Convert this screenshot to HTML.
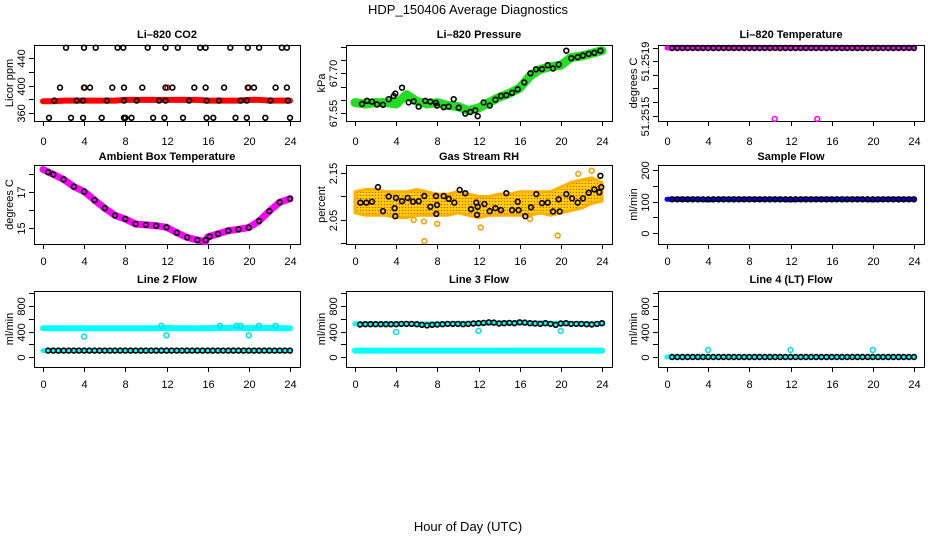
<!DOCTYPE html>
<html><head><meta charset="utf-8">
<style>
html,body{margin:0;padding:0;background:#fff;}
svg{display:block;font-family:"Liberation Sans",Arial,sans-serif;}
.tl{font-size:11px;fill:#000;}
.tt{font-size:11px;font-weight:bold;fill:#000;}
</style></head>
<body>
<svg id="chart" width="936" height="540" viewBox="0 0 936 540" xmlns="http://www.w3.org/2000/svg">
<defs>
<pattern id="orangeDots" width="3" height="3" patternUnits="userSpaceOnUse">
<rect width="3" height="3" fill="#ffc800"/><rect width="1" height="1" fill="#f04000"/><rect x="1" y="1" width="1" height="1" fill="#ffe000"/>
</pattern>
</defs>
<text x="468" y="14" text-anchor="middle" font-size="13">HDP_150406  Average Diagnostics</text>
<text x="468" y="531" text-anchor="middle" font-size="13">Hour of Day (UTC)</text>
</svg>
<script>
// ---- data ----
const hourly = [0,1,2,3,4,5,6,7,8,9,10,11,12,13,14,15,16,17,18,19,20,21,22,23,24];
const halfHours = [0.5,1,1.5,2,2.5,3,3.5,4,4.5,5,5.5,6,6.5,7,7.5,8,8.5,9,9.5,10,10.5,11,11.5,12,12.5,13,13.5,14,14.5,15,15.5,16,16.5,17,17.5,18,18.5,19,19.5,20,20.5,21,21.5,22,22.5,23,23.5,24];
const xTicks = [0,4,8,12,16,20,24];

// Li-820 CO2
const co2Red = [377,377,378,378,378,378,378,378,379,379,379,379,379,379,379,379,378,378,378,378,379,379,378,378,378];
const co2RedSqT = [4.05,12.1,20.0];
const co2RedSqV = [397,397,397];
const co2BlackT = [2.23,3.98,5.12,7.25,7.8,10.17,11.9,13.1,15.26,15.8,18.2,19.9,21.0,23.2,23.7,
  1.65,3.98,4.57,6.73,7.87,9.65,11.9,12.57,14.7,15.8,17.6,19.9,20.5,22.6,23.7,
  1.1,3.27,3.9,6.2,7.87,9.1,11.27,11.9,14.2,15.9,17.1,19.2,19.8,22.1,23.8,
  0.58,2.72,3.9,5.7,7.87,8.0,8.6,10.7,11.8,13.6,15.9,16.55,18.7,19.8,21.6,24];
const co2BlackV = [455,455,455,455,455,455,455,455,455,455,455,455,455,455,455,
  397,397,397,397,397,397,397,397,397,397,397,397,397,397,397,
  378,378,378,378,378,378,378,378,378,378,378,378,378,378,378,
  353,353,353,353,353,353,353,353,353,353,353,353,353,353,353,353];

// Li-820 Pressure
const presGreen = [67.59,67.585,67.59,67.59,67.585,67.62,67.595,67.585,67.59,67.58,67.575,67.56,67.57,67.59,67.61,67.625,67.645,67.69,67.715,67.725,67.73,67.76,67.765,67.775,67.785];
const presT = [0.68,1.17,1.65,2.14,2.72,3.27,3.76,3.92,4.57,5.22,5.7,6.19,6.83,7.32,7.87,7.97,8.62,9.1,9.59,10.08,10.72,11.2,11.69,11.92,12.5,13.09,13.64,14.19,14.7,15.26,15.81,16.45,17.04,17.59,18.17,18.72,19.24,19.79,20.53,21.02,21.64,22.15,22.71,23.25,23.84];
const presV = [67.585,67.597,67.594,67.583,67.582,67.603,67.615,67.624,67.646,67.591,67.595,67.575,67.597,67.594,67.589,67.579,67.573,67.575,67.603,67.571,67.549,67.555,67.561,67.539,67.591,67.579,67.601,67.615,67.618,67.627,67.64,67.666,67.70,67.715,67.716,67.731,67.718,67.733,67.785,67.757,67.761,67.767,67.773,67.777,67.785];

// Li-820 Temperature
const tempMag = [51.2519,51.2519,51.2519,51.2519,51.2519,51.2519,51.2519,51.2519,51.2519,51.2519,51.2519,51.2519,51.2519,51.2519,51.2519,51.2519,51.2519,51.2519,51.2519,51.2519,51.2519,51.2519,51.2519,51.2519,51.2519];
const tempOutT = [10.46,14.6];
const tempOutV = [51.25148,51.25148];
const tempBlack = [51.2519,51.2519,51.2519,51.2519,51.2519,51.2519,51.2519,51.2519,51.2519,51.2519,51.2519,51.2519,51.2519,51.2519,51.2519,51.2519,51.2519,51.2519,51.2519,51.2519,51.2519,51.2519,51.2519,51.2519,51.2519,51.2519,51.2519,51.2519,51.2519,51.2519,51.2519,51.2519,51.2519,51.2519,51.2519,51.2519,51.2519,51.2519,51.2519,51.2519,51.2519,51.2519,51.2519,51.2519,51.2519,51.2519,51.2519,51.2519];

// Ambient Box Temperature
const ambT = [0,1,2,3,4,5,6,7,8,9,10,11,12,13,14,15,15.8,16,17,18,19,20,21,22,23,24];
const ambMag = [18.25,17.98,17.7,17.3,17.02,16.55,16.1,15.7,15.5,15.22,15.17,15.13,15.04,14.74,14.48,14.33,14.25,14.5,14.67,14.85,14.93,15.02,15.39,15.94,16.43,16.63];
const ambBlackT = [0.5,1,2,3,4,5,6,7,8,9,10,11,12,13,14,15,15.8,16.2,17,18,19,20,21,22,23,24];
const ambBlack = [18.1,17.98,17.7,17.3,17.02,16.55,16.1,15.7,15.5,15.22,15.17,15.13,15.04,14.74,14.48,14.33,14.33,14.52,14.67,14.85,14.93,15.02,15.39,15.94,16.43,16.63];

// Gas Stream RH
const rhUpper = [2.11,2.115,2.115,2.11,2.11,2.11,2.115,2.11,2.105,2.105,2.11,2.105,2.1,2.1,2.105,2.105,2.11,2.11,2.11,2.11,2.12,2.13,2.135,2.14,2.13];
const rhLower = [2.065,2.06,2.06,2.06,2.055,2.055,2.06,2.06,2.06,2.06,2.065,2.06,2.055,2.06,2.06,2.06,2.06,2.06,2.065,2.06,2.065,2.07,2.075,2.085,2.09];
const rhOutT = [6.73,6.7,5.7,8.0,12.2,17.0,19.7,21.7,23.0];
const rhOutV = [2.005,2.047,2.05,2.042,2.034,2.052,2.017,2.148,2.155];
const rhT = [0.52,1.10,1.65,2.23,2.72,3.27,3.85,3.92,3.98,4.57,5.12,5.64,6.19,6.73,7.32,7.87,7.9,7.97,8.62,9.1,9.65,10.17,10.72,11.27,11.79,11.85,11.92,12.57,13.09,13.64,14.19,14.7,15.26,15.81,15.9,16.55,17.1,17.62,18.17,18.72,19.24,19.79,19.89,20.53,21.09,21.64,22.15,22.71,23.25,23.74,23.84,23.93];
const rhV = [2.087,2.087,2.089,2.12,2.069,2.1,2.075,2.058,2.097,2.09,2.097,2.089,2.09,2.101,2.078,2.101,2.063,2.082,2.101,2.095,2.087,2.114,2.107,2.073,2.087,2.061,2.078,2.084,2.069,2.075,2.071,2.107,2.071,2.089,2.071,2.058,2.077,2.105,2.086,2.087,2.068,2.094,2.068,2.105,2.096,2.087,2.096,2.108,2.115,2.109,2.144,2.12];

// Sample Flow
const sampBlue = [107,107,107,107,105,107,107,107,107,107,107,107,105,107,107,107,107,107,107,107,105,107,107,107,107];
const sampBlack = [107,107,107,107,107,107,107,107,107,107,107,107,107,107,107,107,107,107,107,107,107,107,107,107,107,107,107,107,107,107,107,107,107,107,107,107,107,107,107,107,107,107,107,107,107,107,107,107];

// Line 2 Flow
const l2CyanHi = [450,450,450,450,450,450,450,450,450,450,450,452,455,450,450,450,450,455,455,458,452,455,455,450,450];
const l2CyanLo = [100,100,100,100,100,100,100,100,100,100,100,100,100,100,100,100,100,100,100,100,100,100,100,100,100];
const l2OutT = [4,12,20,11.5,17.2,18.8,19.2,21,22.6];
const l2OutV = [320,340,340,490,490,490,490,490,490];
const l2Black = [100,100,100,100,100,100,100,100,100,100,100,100,100,100,100,100,100,100,100,100,100,100,100,100,100,100,100,100,100,100,100,100,100,100,100,100,100,100,100,100,100,100,100,100,100,100,100,100];

// Line 3 Flow
const l3CyanHi = [520,520,520,520,520,525,515,520,520,520,525,530,530,530,535,535,535,530,535,530,525,525,525,520,520];
const l3CyanLo = [100,100,100,100,100,100,100,100,100,100,100,100,100,100,100,100,100,100,100,100,100,100,100,100,100];
const l3OutT = [4,12,20];
const l3OutV = [390,410,410];
const l3Black = [510,515,515,515,515,515,515,515,520,520,520,515,505,495,505,510,515,520,520,520,515,520,525,530,535,545,540,525,530,535,530,545,540,530,525,520,530,520,505,525,530,520,520,520,515,510,520,530];

// Line 4 (LT) Flow
const l4Cyan = [0,0,0,0,0,0,0,0,0,0,0,0,0,0,0,0,0,0,0,0,0,0,0,0,0];
const l4OutT = [4,12,20];
const l4OutV = [110,110,110];
const l4Black = [0,0,0,0,0,0,0,0,0,0,0,0,0,0,0,0,0,0,0,0,0,0,0,0,0,0,0,0,0,0,0,0,0,0,0,0,0,0,0,0,0,0,0,0,0,0,0,0];

// ---- layout ----
const NS = 'http://www.w3.org/2000/svg';
const svg = document.getElementById('chart');
const ROWS = [[45,121,34,141],[165,244,156,261],[291,367,279,384]];
function mk(tag, attrs, parent){
  const e = document.createElementNS(NS, tag);
  for (const k in attrs) e.setAttribute(k, attrs[k]);
  (parent||svg).appendChild(e);
  return e;
}
function makePanel(col,row,title,ylab,v0,y0,v1,y1,ticks,labels,key){
  const off = col*312, r = ROWS[row];
  const p = {off, top:r[0], bot:r[1], v0, y0, v1, y1};
  p.sx = t => off + 43 + t*247/24;
  p.sy = v => y0 + (v - v0)*(y1 - y0)/(v1 - v0);
  const g = mk('g', {});
  
  
  p.g = g;
  const box = mk('rect', {x:off+34.5, y:r[0]+0.5, width:266, height:r[1]-r[0], fill:'none', stroke:'#000', 'stroke-width':1}, g);
  
  
  const tt = mk('text', {x:off+167, y:r[2]+4, 'text-anchor':'middle', class:'tt'}, g);
  tt.textContent = title;
  
  
  const yl = mk('text', {transform:`translate(${off+13},${(r[0]+r[1])/2}) rotate(-90)`, 'text-anchor':'middle', class:'tl'}, g);
  yl.textContent = ylab;
  
  
  mk('line', {x1:p.sx(0), x2:p.sx(24), y1:r[1]+0.5, y2:r[1]+0.5, stroke:'#000'}, g);
  xTicks.forEach(t => {
    const x = Math.round(p.sx(t))+0.5;
    mk('line', {x1:x, x2:x, y1:r[1], y2:r[1]+5, stroke:'#000'}, g);
    const lt = mk('text', {x:x, y:r[3]+4, 'text-anchor':'middle', class:'tl'}, g);
    lt.textContent = t;
    
    
  });
  ticks.forEach((v,i) => {
    const y = Math.round(p.sy(v))+0.5;
    mk('line', {x1:off+29, x2:off+34, y1:y, y2:y, stroke:'#000'}, g);
    if (labels[i]) {
      const lt = mk('text', {transform:`translate(${off+25},${y}) rotate(-90)`, 'text-anchor':'middle', class:'tl'}, g);
      lt.textContent = labels[i];
      
      
    }
  });
  return p;
}
function band(p, xs, vs, color, w, name){
  const pts = xs.map((t,i) => p.sx(t).toFixed(1)+','+p.sy(vs[i]).toFixed(1)).join(' ');
  const e = mk('polyline', {points:pts, fill:'none', stroke:color, 'stroke-width':w, 'stroke-linecap':'round', 'stroke-linejoin':'round'}, p.g);
  
  
}
function pts(p, xs, vs, color, name){
  const g = mk('g', {}, p.g);
  
  
  xs.forEach((t,i) => {
    const c = mk('circle', {cx:p.sx(t).toFixed(1), cy:p.sy(vs[i]).toFixed(1), r:2.4, fill:'none', stroke:color, 'stroke-width':1.6}, g);
    
    
  });
}
function area(p, xs, up, lo, fill, name){
  const a = xs.map((t,i)=>p.sx(t).toFixed(1)+','+p.sy(up[i]).toFixed(1));
  const b = xs.map((t,i)=>p.sx(t).toFixed(1)+','+p.sy(lo[i]).toFixed(1)).reverse();
  const e = mk('polygon', {points:a.concat(b).join(' '), fill:fill, stroke:'#ffb000', 'stroke-width':3, 'stroke-linejoin':'round'}, p.g);
  
  
}

let p = makePanel(0,0,'Li\u2013820 CO2','Licor ppm',360,113,440,58,[360,380,400,420,440],['360','','400','','440'],'co2');
band(p, hourly, co2Red, '#ff0000', 6, 'co2-red-series');
pts(p, co2RedSqT, co2RedSqV, '#ff0000', 'co2-red-points');
pts(p, co2BlackT, co2BlackV, '#000', 'co2-black-points');

p = makePanel(1,0,'Li\u2013820 Pressure','kPa',67.55,113.3,67.80,46.7,[67.55,67.60,67.65,67.70,67.75,67.80],['67.55','','','67.70','',''],'pressure');
band(p, hourly, presGreen, '#22dd22', 9, 'pressure-green-series');
pts(p, presT, presV, '#000', 'pressure-black-points');

p = makePanel(2,0,'Li\u2013820 Temperature','degrees C',51.2515,115.5,51.2519,48,[51.2515,51.25158,51.25166,51.25174,51.25182,51.2519],['51.2515','','','','51.2519',''],'li820-temp');
band(p, hourly, tempMag, '#ff00ff', 5, 'li820-temp-magenta-series');
pts(p, tempOutT, tempOutV, '#ff00ff', 'li820-temp-outliers');
pts(p, halfHours, tempBlack, '#000', 'li820-temp-black-points');

p = makePanel(0,1,'Ambient Box Temperature','degrees C',15,228,17,192,[15,16,17,18],['15','','17',''],'ambient-temp');
band(p, ambT, ambMag, '#ff00ff', 7, 'ambient-temp-magenta-series');
pts(p, ambBlackT, ambBlack, '#000', 'ambient-temp-black-points');

p = makePanel(1,1,'Gas Stream RH','percent',2.05,220,2.15,173,[2.0,2.05,2.1,2.15],['','2.05','','2.15'],'rh');
area(p, hourly, rhUpper, rhLower, 'url(#orangeDots)', 'rh-orange-band');
pts(p, rhOutT, rhOutV, '#ffa000', 'rh-orange-outliers');
pts(p, rhT, rhV, '#000', 'rh-black-points');

p = makePanel(2,1,'Sample Flow','ml/min',0,233,200,170,[0,50,100,150,200],['0','','100','','200'],'sample-flow');
band(p, hourly, sampBlue, '#0000ff', 5, 'sample-flow-blue-series');
pts(p, halfHours, sampBlack, '#000', 'sample-flow-black-points');

p = makePanel(0,2,'Line 2 Flow','ml/min',0,357,800,306,[0,200,400,600,800,1000],['0','','400','','800',''],'line2');
band(p, hourly, l2CyanHi, '#00ffff', 6, 'line2-cyan-high');
band(p, hourly, l2CyanLo, '#00ffff', 5, 'line2-cyan-low');
pts(p, l2OutT, l2OutV, '#00e0f0', 'line2-cyan-outliers');
pts(p, halfHours, l2Black, '#000', 'line2-black-points');

p = makePanel(1,2,'Line 3 Flow','ml/min',0,357,800,306,[0,200,400,600,800,1000],['0','','400','','800',''],'line3');
band(p, hourly, l3CyanHi, '#00ffff', 5, 'line3-cyan-high');
band(p, hourly, l3CyanLo, '#00ffff', 6, 'line3-cyan-low');
pts(p, l3OutT, l3OutV, '#00e0f0', 'line3-cyan-outliers');
pts(p, halfHours, l3Black, '#000', 'line3-black-points');

p = makePanel(2,2,'Line 4 (LT) Flow','ml/min',0,357,800,306,[0,200,400,600,800,1000],['0','','400','','800',''],'line4');
band(p, hourly, l4Cyan, '#00ffff', 5, 'line4-cyan-series');
pts(p, l4OutT, l4OutV, '#00e0f0', 'line4-cyan-outliers');
pts(p, halfHours, l4Black, '#000', 'line4-black-points');
</script>
</body></html>
